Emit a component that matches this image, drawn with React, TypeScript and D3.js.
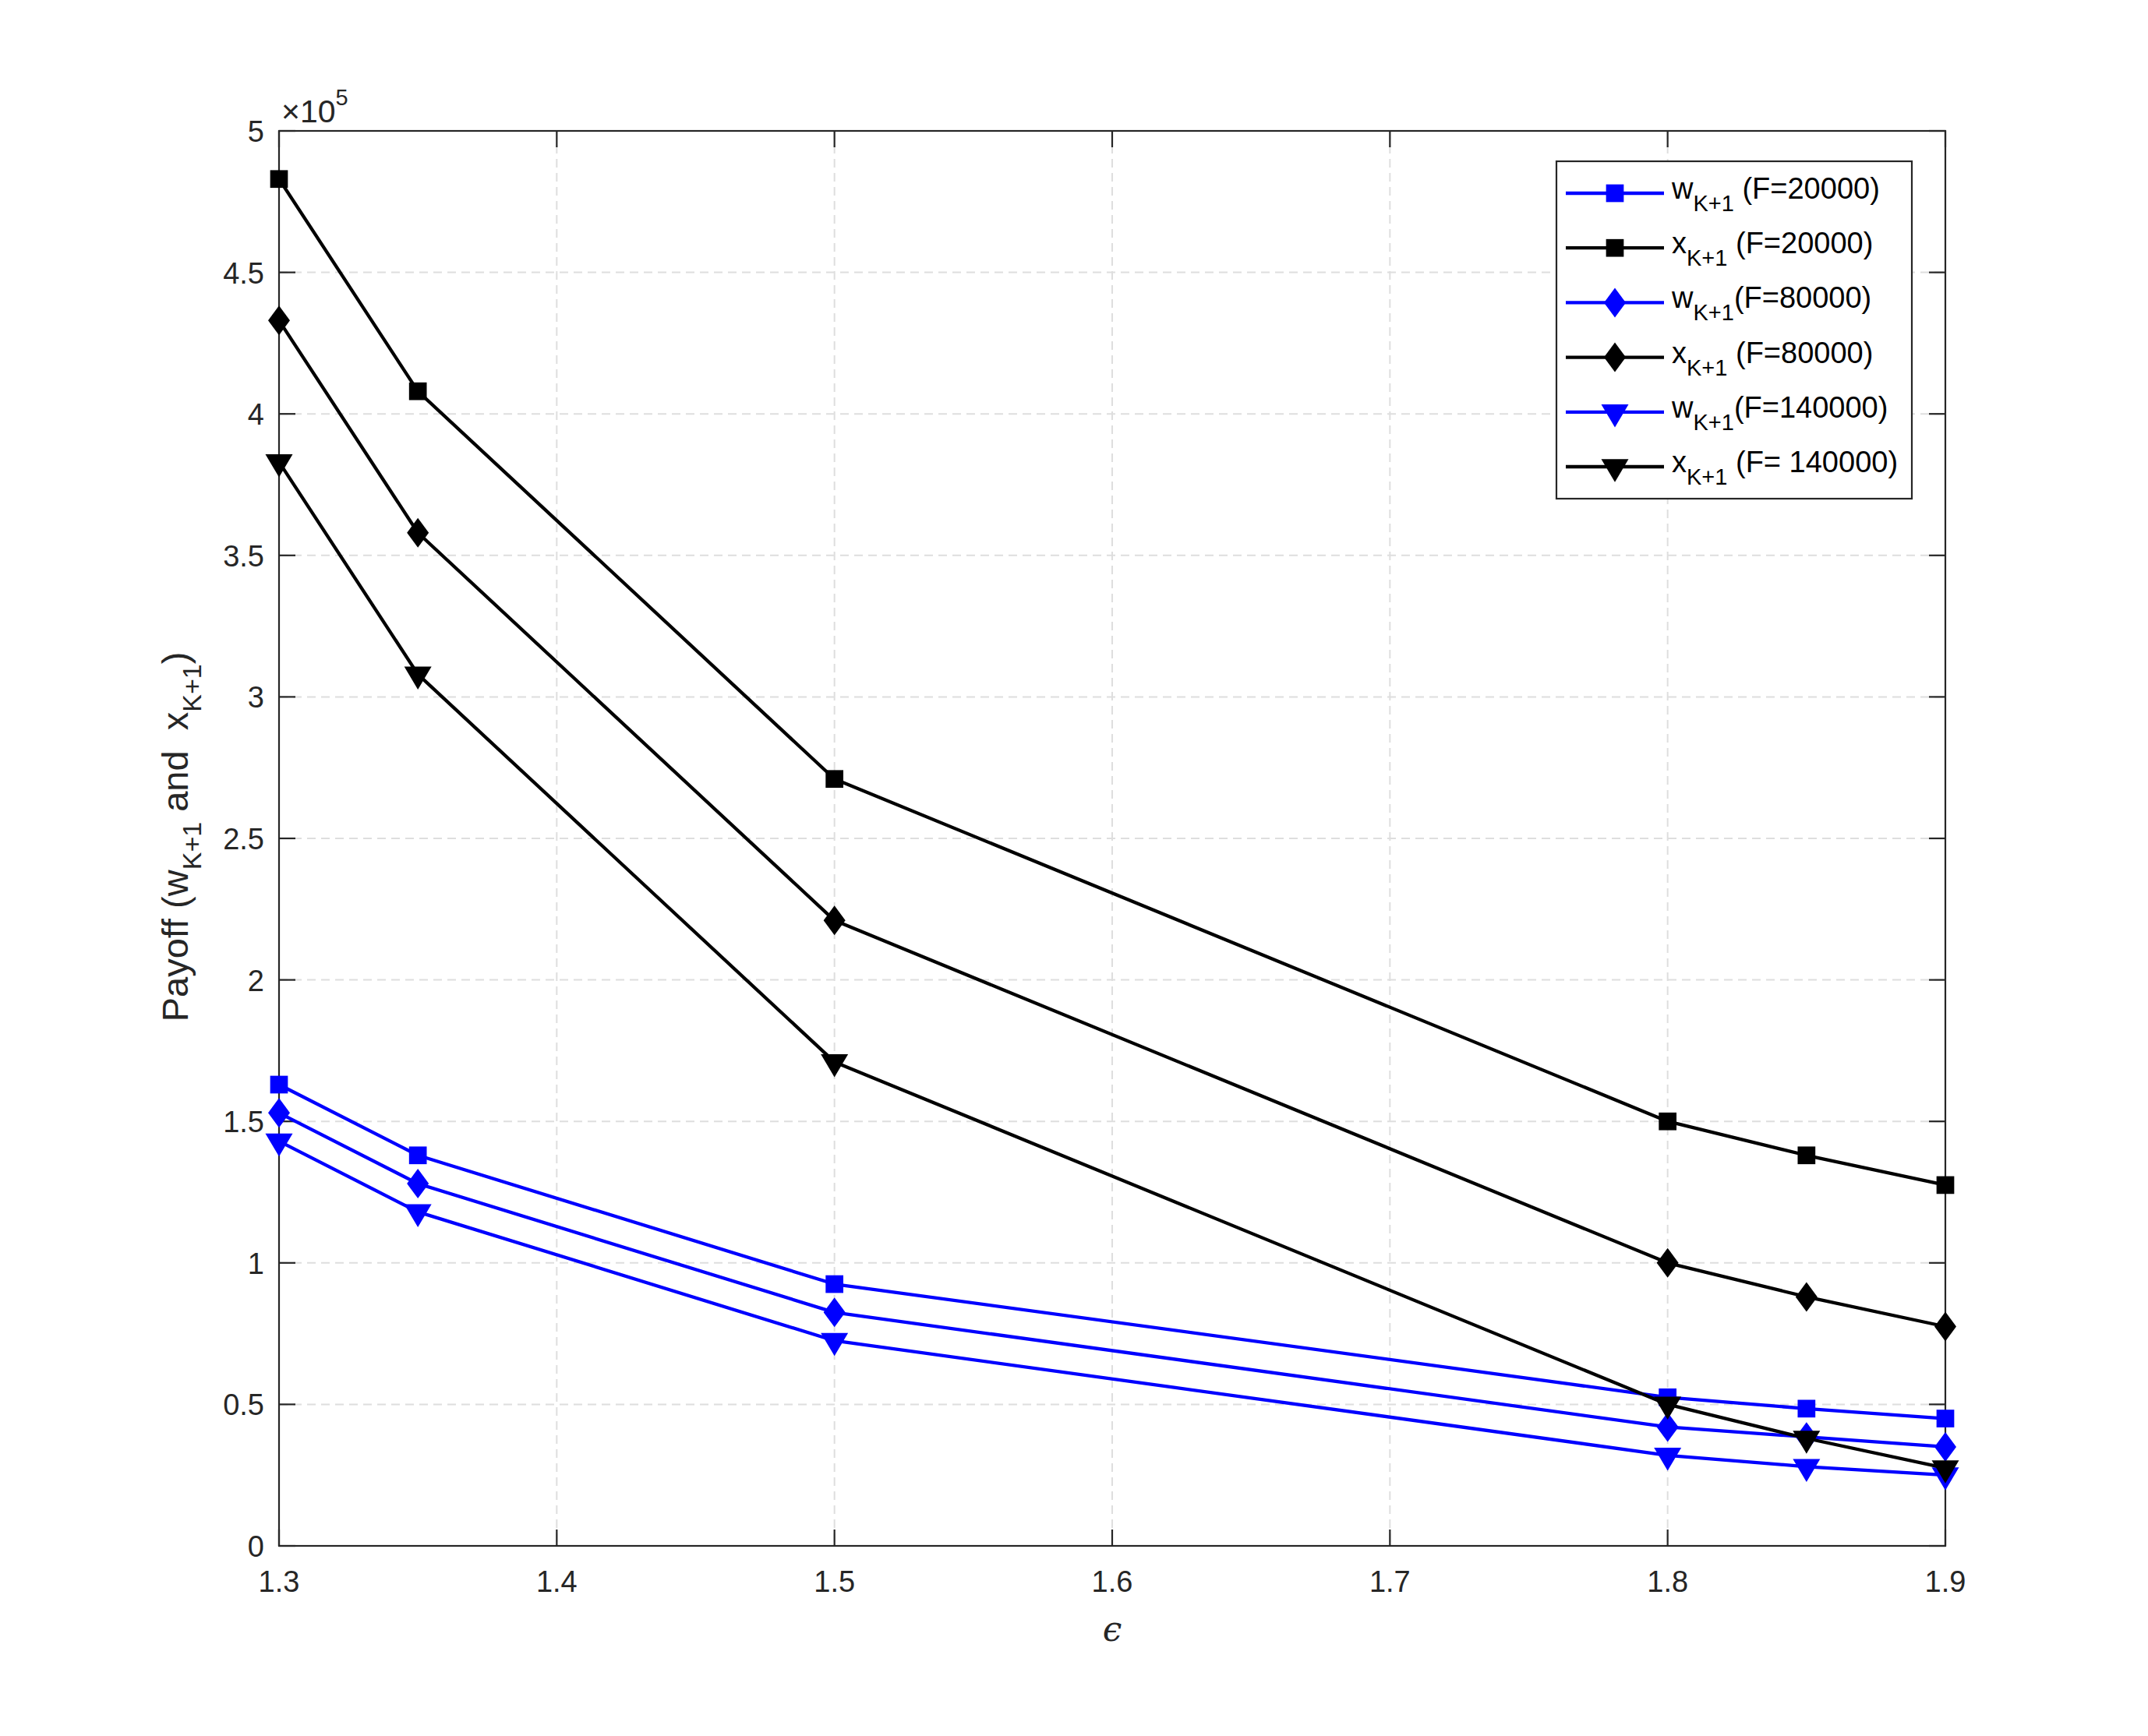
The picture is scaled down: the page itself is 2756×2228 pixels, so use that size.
import React from 'react';
import * as d3 from 'd3';

// ---------- data ----------
const epsilon = [1.3, 1.35, 1.5, 1.8, 1.85, 1.9];
const wF20 = [163000, 138000, 92500, 52500, 48500, 45000];
const xF20 = [483000, 408000, 271000, 150000, 138000, 127500];
const wF80 = [153000, 128000, 82500, 42000, 38500, 35000];
const xF80 = [433000, 358000, 221000, 100000, 88000, 77500];
const wF140 = [143000, 118000, 72500, 32000, 28000, 25000];
const xF140 = [383000, 308000, 171000, 50000, 38000, 27500];

const xTicks = [1.3, 1.4, 1.5, 1.6, 1.7, 1.8, 1.9];
const xTickLabels = ['1.3', '1.4', '1.5', '1.6', '1.7', '1.8', '1.9'];
const yTicks = [0, 50000, 100000, 150000, 200000, 250000, 300000, 350000, 400000, 450000, 500000];
const yTickLabels = ['0', '0.5', '1', '1.5', '2', '2.5', '3', '3.5', '4', '4.5', '5'];

const legendBase = ['w', 'x', 'w', 'x', 'w', 'x'];
const legendRest = [' (F=20000)', ' (F=20000)', '(F=80000)', ' (F=80000)', '(F=140000)', ' (F= 140000)'];
const seriesValues = [wF20, xF20, wF80, xF80, wF140, xF140];
const seriesColors = ['#0000ff', '#000000', '#0000ff', '#000000', '#0000ff', '#000000'];
const seriesMarkers = ['square', 'square', 'diamond', 'diamond', 'tri', 'tri'];

// ---------- layout ----------
const W = 2756;
const H = 2228;
const L = 358, R = 2496, T = 168, B = 1984;
const FONT = '"Liberation Sans", Arial, Helvetica, sans-serif';
const AX = '#262626';

const xScale = d3.scaleLinear().domain([1.3, 1.9]).range([L, R]);
const yScale = d3.scaleLinear().domain([0, 500000]).range([B, T]);

function Marker({ type, x, y, color }: { type: string; x: number; y: number; color: string }) {
  if (type === 'square') {
    const s = 22.7;
    return <rect x={x - s / 2} y={y - s / 2} width={s} height={s} fill={color} />;
  }
  if (type === 'diamond') {
    const w = 28, h = 38;
    return <path d={`M${x},${y - h / 2}L${x + w / 2},${y}L${x},${y + h / 2}L${x - w / 2},${y}Z`} fill={color} />;
  }
  const w = 35, h = 29.5;
  return <path d={`M${x - w / 2},${y - h / 3}L${x + w / 2},${y - h / 3}L${x},${y + (2 * h) / 3}Z`} fill={color} />;
}

export default function App() {
  const line = d3
    .line<number>()
    .x((_, i) => xScale(epsilon[i]))
    .y((d) => yScale(d));

  const legL = 1997, legR = 2453, legT = 207, legB = 640;
  const rowY = (i: number) => 248 + i * 70.2;

  return (
    <svg
      width={W}
      height={H}
      style={{ position: 'absolute', left: 0, top: 0, background: '#fff' }}
      xmlns="http://www.w3.org/2000/svg"
    >
      <rect x={0} y={0} width={W} height={H} fill="#fff" />
      {/* grid */}
      <g stroke="#dedede" strokeWidth={2} strokeDasharray="11 7">
        {xTicks.map((t) => (
          <line key={'gx' + t} x1={xScale(t)} x2={xScale(t)} y1={T} y2={B} />
        ))}
        {yTicks.map((t) => (
          <line key={'gy' + t} x1={L} x2={R} y1={yScale(t)} y2={yScale(t)} />
        ))}
      </g>
      {/* axes box & ticks */}
      <g stroke={AX} strokeWidth={2.2} fill="none">
        <rect x={L} y={T} width={R - L} height={B - T} />
        {xTicks.map((t) => (
          <g key={'tx' + t}>
            <line x1={xScale(t)} x2={xScale(t)} y1={B} y2={B - 21} />
            <line x1={xScale(t)} x2={xScale(t)} y1={T} y2={T + 21} />
          </g>
        ))}
        {yTicks.map((t) => (
          <g key={'ty' + t}>
            <line x1={L} x2={L + 21} y1={yScale(t)} y2={yScale(t)} />
            <line x1={R} x2={R - 21} y1={yScale(t)} y2={yScale(t)} />
          </g>
        ))}
      </g>
      {/* tick labels */}
      <g fontFamily={FONT} fontSize={38} fill={AX}>
        {xTicks.map((t, i) => (
          <text key={'lx' + t} x={xScale(t)} y={2043} textAnchor="middle">
            {xTickLabels[i]}
          </text>
        ))}
        {yTicks.map((t, i) => (
          <text key={'ly' + t} x={339} y={yScale(t) + 14} textAnchor="end">
            {yTickLabels[i]}
          </text>
        ))}
        <text x={361} y={157} fontSize={41}>
          <tspan>×10</tspan>
          <tspan fontSize={29} dy={-22}>5</tspan>
        </text>
      </g>
      {/* axis labels */}
      <text
        x={1427}
        y={2106}
        textAnchor="middle"
        fontFamily='"DejaVu Serif", "Liberation Serif", serif'
        fontStyle="italic"
        fontSize={44}
        fill={AX}
      >
        ϵ
      </text>
      <text
        transform={`translate(241,1074) rotate(-90)`}
        textAnchor="middle"
        fontFamily={FONT}
        fontSize={47}
        fill={AX}
        style={{ whiteSpace: 'pre' }}
      >
        <tspan>Payoff (w</tspan>
        <tspan fontSize={34} dy={17}>K+1</tspan>
        <tspan dy={-17}> and  x</tspan>
        <tspan fontSize={34} dy={17}>K+1</tspan>
        <tspan dy={-17}>)</tspan>
      </text>
      {/* series */}
      {seriesValues.map((vals, si) => (
        <g key={'s' + si}>
          <path d={line(vals) || ''} fill="none" stroke={seriesColors[si]} strokeWidth={4.3} strokeLinejoin="round" />
          {vals.map((v, i) => (
            <Marker key={i} type={seriesMarkers[si]} x={xScale(epsilon[i])} y={yScale(v)} color={seriesColors[si]} />
          ))}
        </g>
      ))}
      {/* legend */}
      <rect x={legL} y={legT} width={legR - legL} height={legB - legT} fill="#fff" stroke={AX} strokeWidth={2.2} />
      {seriesValues.map((_, i) => (
        <g key={'lg' + i}>
          <line x1={2009} x2={2135} y1={rowY(i)} y2={rowY(i)} stroke={seriesColors[i]} strokeWidth={4.3} />
          <Marker type={seriesMarkers[i]} x={2072} y={rowY(i)} color={seriesColors[i]} />
          <text x={2145} y={rowY(i) + 7} fontFamily={FONT} fontSize={38} fill="#000" style={{ whiteSpace: 'pre' }}>
            <tspan>{legendBase[i]}</tspan>
            <tspan fontSize={29} dy={16}>K+1</tspan>
            <tspan dy={-16}>{legendRest[i]}</tspan>
          </text>
        </g>
      ))}
    </svg>
  );
}
